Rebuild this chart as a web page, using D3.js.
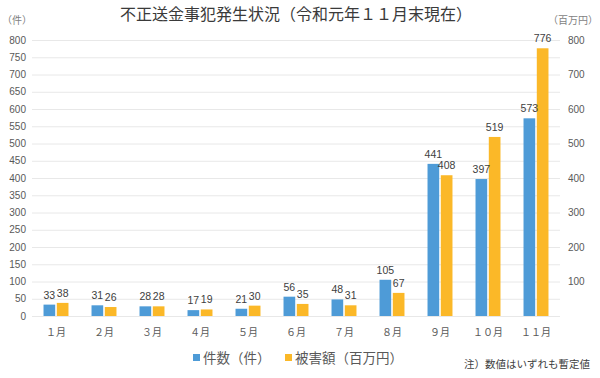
<!DOCTYPE html>
<meta charset="utf-8">
<style>
  body { margin: 0; background: #fff; }
  text { font-family: "Noto Sans CJK JP", "Noto Sans", sans-serif; }
</style>
<body>
<script src="https://d3js.org/d3.v7.min.js"></script>
<script>
  // data
  const months = ["１月", "２月", "３月", "４月", "５月", "６月", "７月", "８月", "９月", "１０月", "１１月"];
  const cases = [33, 31, 28, 17, 21, 56, 48, 105, 441, 397, 573];
  const damage = [38, 26, 28, 19, 30, 35, 31, 67, 408, 519, 776];
  const seriesNames = ["件数（件）", "被害額（百万円）"];
  const leftTicks = d3.range(0, 801, 50);
  const rightTicks = d3.range(100, 801, 100);

  const colors = ["#4e9bd7", "#fbb828"];

  const W = 600, H = 378;
  const plot = {left: 32, right: 560, top: 40, bottom: 316};

  const svg = d3.select("body").append("svg")
      .attr("width", W)
      .attr("height", H);

  const x0 = d3.scaleBand()
      .domain(months)
      .range([plot.left, plot.right])
      .paddingInner(0.48)
      .paddingOuter(0.24);
  const x1 = d3.scaleBand()
      .domain([0, 1])
      .range([0, x0.bandwidth()])
      .paddingInner(0.12);

  const yL = d3.scaleLinear().domain([0, 800]).range([plot.bottom, plot.top]);
  const yR = d3.scaleLinear().domain([0, 800]).range([plot.bottom, plot.top]);

  // gridlines
  svg.append("g")
    .selectAll("line")
    .data(leftTicks)
    .join("line")
      .attr("x1", plot.left)
      .attr("x2", plot.right)
      .attr("y1", d => yL(d) + 0.5)
      .attr("y2", d => yL(d) + 0.5)
      .attr("stroke", "#e8e8e8");

  // left axis
  const axL = svg.append("g")
      .attr("transform", "translate(" + (plot.left - 6) + ",0)")
      .call(d3.axisLeft(yL).tickValues(leftTicks).tickSize(0).tickPadding(0));
  axL.select(".domain").remove();
  axL.selectAll("text").attr("fill", "#595959").style("font-size", "10px").style("font-family", "Liberation Sans, sans-serif");

  // right axis
  const axR = svg.append("g")
      .attr("transform", "translate(" + (plot.right + 8) + ",0)")
      .call(d3.axisRight(yR).tickValues(rightTicks).tickSize(0).tickPadding(0));
  axR.select(".domain").remove();
  axR.selectAll("text").attr("fill", "#595959").style("font-size", "10px").style("font-family", "Liberation Sans, sans-serif");

  // bars
  const rows = months.map((m, i) => ({month: m, vals: [cases[i], damage[i]]}));
  const groups = svg.append("g")
    .selectAll("g")
    .data(rows)
    .join("g")
      .attr("transform", d => "translate(" + x0(d.month) + ",0)");

  groups.selectAll("rect")
    .data(d => d.vals.map((v, k) => ({k, v})))
    .join("rect")
      .attr("x", d => x1(d.k))
      .attr("width", x1.bandwidth())
      .attr("y", d => (d.k === 0 ? yL : yR)(d.v))
      .attr("height", d => plot.bottom - (d.k === 0 ? yL : yR)(d.v))
      .attr("fill", d => colors[d.k]);

  groups.selectAll("text")
    .data(d => d.vals.map((v, k) => ({k, v})))
    .join("text")
      .attr("x", d => x1(d.k) + x1.bandwidth() / 2)
      .attr("y", d => (d.k === 0 ? yL : yR)(d.v) - 6)
      .attr("text-anchor", "middle")
      .attr("fill", "#404040")
      .style("font-size", "10.5px")
      .style("font-family", "Liberation Sans, sans-serif")
      .text(d => d.v);

  // month labels
  svg.append("g")
    .selectAll("text")
    .data(months)
    .join("text")
      .attr("x", d => x0(d) + x0.bandwidth() / 2)
      .attr("y", 336)
      .attr("text-anchor", "middle")
      .attr("fill", "#595959")
      .style("font-size", "10px")
      .text(d => d);

  // title and unit labels
  svg.append("text")
      .attr("x", 296)
      .attr("y", 20)
      .attr("text-anchor", "middle")
      .attr("fill", "#3a3a3a")
      .style("font-size", "16px")
      .text("不正送金事犯発生状況（令和元年１１月末現在）");

  svg.append("text")
      .attr("x", 2)
      .attr("y", 24)
      .attr("fill", "#7f7f7f")
      .style("font-size", "10px")
      .text("（件）");

  svg.append("text")
      .attr("x", 598)
      .attr("y", 24)
      .attr("text-anchor", "end")
      .attr("fill", "#7f7f7f")
      .style("font-size", "10px")
      .text("（百万円）");

  // legend
  const legendX = [193, 285];
  const leg = svg.append("g")
    .selectAll("g")
    .data(seriesNames)
    .join("g")
      .attr("transform", (d, i) => "translate(" + legendX[i] + ",359)");
  leg.append("rect")
      .attr("x", 0)
      .attr("y", -5)
      .attr("width", 7)
      .attr("height", 7)
      .attr("fill", (d, i) => colors[i]);
  leg.append("text")
      .attr("x", 10)
      .attr("y", 4)
      .attr("fill", "#595959")
      .style("font-size", "13.5px")
      .text(d => d);

  svg.append("text")
      .attr("x", 590)
      .attr("y", 368)
      .attr("text-anchor", "end")
      .attr("fill", "#404040")
      .style("font-size", "10.5px")
      .text("注）数値はいずれも暫定値");
</script>
</body>
